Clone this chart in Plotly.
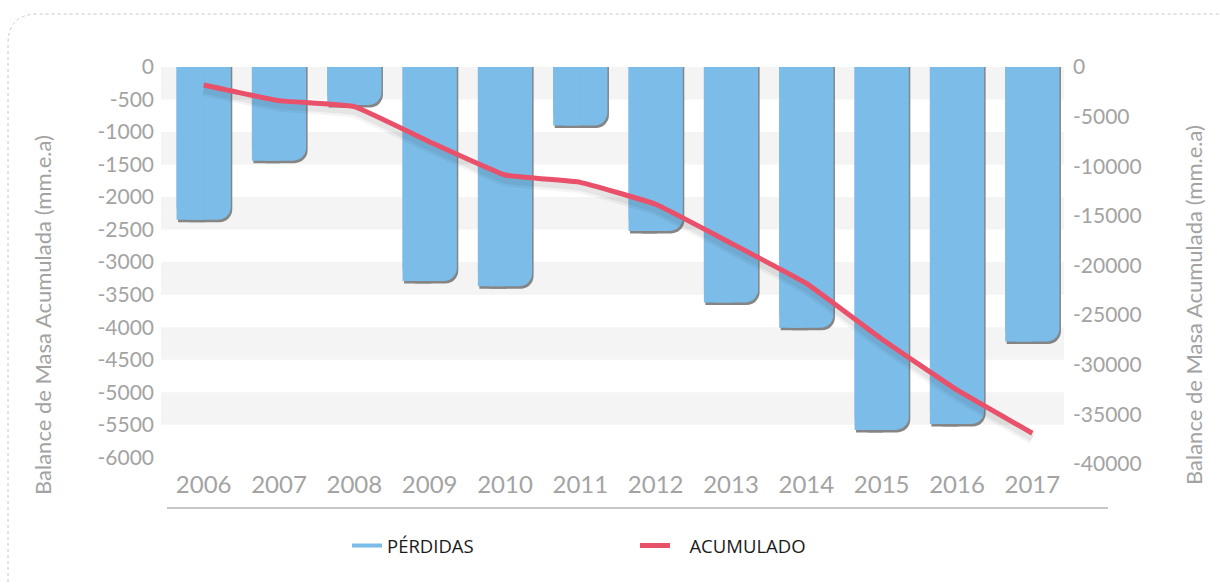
import plotly.graph_objects as go

# Annual glacier mass balance (bars, left axis) and accumulated balance (line, right axis)
years = ["2006", "2007", "2008", "2009", "2010", "2011",
         "2012", "2013", "2014", "2015", "2016", "2017"]
perdidas = [-2350, -1440, -585, -3290, -3370, -900,
            -2520, -3620, -4010, -5580, -5490, -4220]
acumulado = [-1810, -3390, -4000, -7550, -10880, -11620,
             -13830, -17750, -21800, -27400, -32540, -36900]

left_ticks = [0, -500, -1000, -1500, -2000, -2500, -3000,
              -3500, -4000, -4500, -5000, -5500, -6000]
left_labels = ["0", "-500", "-1000", "-1500", "-2000", "-2500", "-3000",
               "-3500", "-4000", "-4500", "-5000", "-5500", "-6000"]
right_ticks = [0, -5000, -10000, -15000, -20000, -25000, -30000, -35000, -40000]
right_labels = ["0", "-5000", "-10000", "-15000", "-20000", "-25000",
                "-30000", "-35000", "-40000"]
band_edges = [(0, -500), (-1000, -1500), (-2000, -2500),
              (-3000, -3500), (-4000, -4500), (-5000, -5500)]

y_title = "Balance de Masa Acumulada (mm.e.a)"

# page geometry
W, H = 1220, 584
L, R, T, B = 166, 1070, 67, 467
LEFT_MIN, RIGHT_MIN = -6150, -40300
plot_h = B - T


def px_x(p):
    return (p - L) / (R - L)


def px_y(p):
    return (B - p) / plot_h


BLUE = "#7bbce8"
RED = "#e9506a"
TICK_GREY = "#a3a3a3"
BAR_W = 0.72
CORNER = 13

# a few pixels of drop shadow expressed in axis units
shadow_left = 2.5 * (-LEFT_MIN) / plot_h
shadow_right = 5 * (-RIGHT_MIN) / plot_h
shadow_dx = 1.5 / ((R - L) / len(years))

fig = go.Figure()

# bar shadow: rounded body plus a square left half
fig.add_trace(go.Bar(
    x=years, y=[v - shadow_left for v in perdidas], width=BAR_W,
    offset=-BAR_W / 2 + shadow_dx, marker=dict(color="#858585", cornerradius=CORNER,
                                               line=dict(width=0)),
    showlegend=False, hoverinfo="skip"))
fig.add_trace(go.Bar(
    x=years, y=[v - shadow_left for v in perdidas], width=BAR_W / 2,
    offset=-BAR_W / 2 + shadow_dx, marker=dict(color="#858585", line=dict(width=0)),
    showlegend=False, hoverinfo="skip"))

# bars: rounded lower-right corner, square lower-left corner
fig.add_trace(go.Bar(
    x=years, y=perdidas, width=BAR_W, offset=-BAR_W / 2, name="PÉRDIDAS",
    marker=dict(color=BLUE, cornerradius=CORNER, line=dict(width=0)),
    showlegend=False))
fig.add_trace(go.Bar(
    x=years, y=perdidas, width=BAR_W / 2, offset=-BAR_W / 2,
    marker=dict(color=BLUE, line=dict(width=0)),
    showlegend=False, hoverinfo="skip"))

# legend entry for the bars drawn as a line sample
fig.add_trace(go.Scatter(
    x=[None], y=[None], mode="lines", name="PÉRDIDAS",
    line=dict(color=BLUE, width=4)))

# soft shadow under the accumulated line (two layered strokes)
for width, alpha in [(12, 0.05), (7, 0.07)]:
    fig.add_trace(go.Scatter(
        x=years, y=[v - shadow_right for v in acumulado], yaxis="y2", mode="lines",
        line=dict(color=f"rgba(40,40,40,{alpha})", width=width,
                  shape="spline", smoothing=0.3),
        showlegend=False, hoverinfo="skip"))
fig.add_trace(go.Scatter(
    x=years, y=acumulado, yaxis="y2", mode="lines",
    name="&nbsp;&nbsp;&nbsp;ACUMULADO",
    line=dict(color=RED, width=5, shape="spline", smoothing=0.3)))

shapes = []
for top, bottom in band_edges:
    shapes.append(dict(type="rect", xref="paper", yref="y",
                       x0=px_x(161), x1=px_x(1064), y0=top, y1=bottom,
                       fillcolor="#f4f4f4", line=dict(width=0), layer="below"))

# baseline under the year labels
shapes.append(dict(type="line", xref="paper", yref="paper",
                   x0=px_x(167), x1=px_x(1108), y0=px_y(508), y1=px_y(508),
                   line=dict(color="#c6c6c6", width=2)))

# dotted card outline with rounded top-left corner
r = 30
frame = (f"M {px_x(8)} {px_y(600)} L {px_x(8)} {px_y(14 + r)} "
         f"Q {px_x(8)} {px_y(14)} {px_x(8 + r)} {px_y(14)} "
         f"L {px_x(1240)} {px_y(14)}")
shapes.append(dict(type="path", xref="paper", yref="paper", path=frame,
                   line=dict(color="#c8c8c8", width=1, dash="dot")))

annotations = [
    dict(text=y_title, textangle=-90, xref="paper", yref="paper",
         x=px_x(42), y=px_y(315), xanchor="center", yanchor="middle",
         showarrow=False, font=dict(family="Lato", size=22, color=TICK_GREY)),
    dict(text=y_title, textangle=-90, xref="paper", yref="paper",
         x=px_x(1193), y=px_y(305), xanchor="center", yanchor="middle",
         showarrow=False, font=dict(family="Lato", size=22, color=TICK_GREY)),
]

fig.update_layout(
    width=W, height=H,
    margin=dict(l=L, r=W - R, t=T, b=H - B, autoexpand=False),
    paper_bgcolor="white", plot_bgcolor="white",
    barmode="overlay",
    font=dict(family="Lato", color=TICK_GREY),
    xaxis=dict(type="category", showgrid=False, zeroline=False, showline=False,
               tickfont=dict(family="Lato", size=24, color=TICK_GREY),
               ticklabelstandoff=1),
    yaxis=dict(range=[LEFT_MIN, 0], tickvals=left_ticks, ticktext=left_labels,
               showgrid=False, zeroline=False, showline=False,
               tickfont=dict(family="Lato", size=21, color=TICK_GREY),
               ticklabelstandoff=11),
    yaxis2=dict(range=[RIGHT_MIN, 0], tickvals=right_ticks, ticktext=right_labels,
                overlaying="y", side="right", showgrid=False, zeroline=False,
                showline=False,
                tickfont=dict(family="Lato", size=21, color=TICK_GREY),
                ticklabelstandoff=2),
    legend=dict(orientation="h", x=px_x(347), y=px_y(546), xanchor="left",
                yanchor="middle", entrywidth=243, entrywidthmode="pixels",
                font=dict(family="Open Sans", size=18.5, color="#1a1a1a"),
                bgcolor="rgba(0,0,0,0)"),
    shapes=shapes,
    annotations=annotations,
)

fig.write_html("out.html")
